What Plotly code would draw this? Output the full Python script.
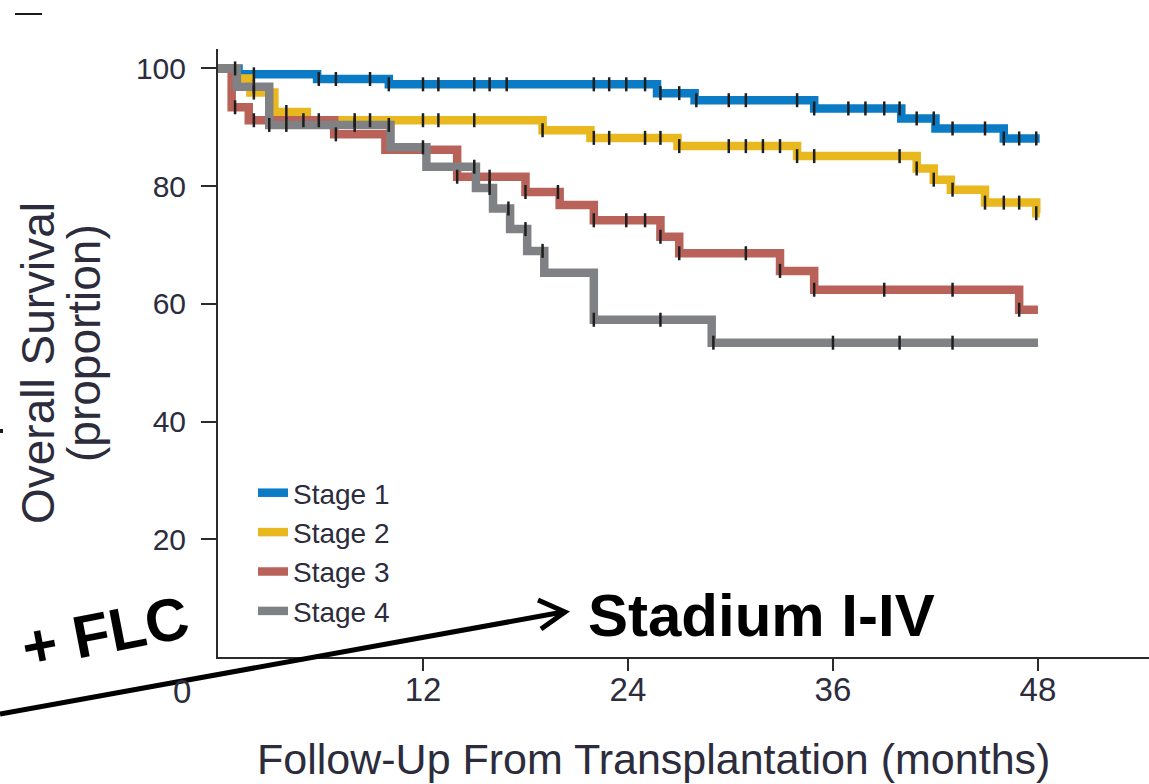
import plotly.graph_objects as go

# ---------------- data ----------------
stage_names = ["Stage 1", "Stage 2", "Stage 3", "Stage 4"]
stage_colors = ["#0a7bc4", "#e8b81e", "#b9625a", "#808184"]

# Kaplan-Meier step functions: time of each step (months) and survival (%) after it
stage1_time = [0, 1.2, 5.8, 10.0, 25.7, 27.9, 34.9, 40.0, 42.0, 46.0, 48.1]
stage1_surv = [100, 99.0, 98.2, 97.3, 95.8, 94.6, 93.2, 91.5, 89.8, 88.1, 88.1]
stage1_cens = [2.1, 5.9, 6.9, 8.9, 10.0, 12.0, 12.9, 15.0, 15.9, 16.9, 22.0, 22.9, 23.9,
               25.0, 25.9, 27.0, 28.0, 29.9, 30.9, 33.9, 34.9, 36.9, 37.9, 39.0, 39.9,
               40.9, 41.9, 43.0, 44.9, 46.0, 46.9, 47.9]

stage2_time = [0, 1.1, 1.9, 3.3, 5.2, 19.0, 21.8, 26.9, 33.9, 40.9, 41.9, 42.9, 44.9, 47.9, 48.1]
stage2_surv = [100, 98.3, 95.9, 92.6, 91.2, 89.5, 88.2, 86.8, 85.1, 83.0, 81.1, 79.4, 77.2, 75.4, 75.4]
stage2_cens = [2.1, 4.0, 8.0, 8.9, 12.0, 12.9, 15.0, 19.0, 22.0, 22.9, 25.0, 25.9, 27.0,
               29.9, 30.9, 31.9, 32.9, 33.9, 34.9, 39.9, 40.9, 41.9, 43.0, 44.9, 46.0,
               46.9, 47.9]

stage3_time = [0, 0.8, 1.8, 6.8, 9.8, 14.0, 18.0, 20.0, 22.0, 25.9, 27.0, 32.9, 34.9, 46.9, 48.0]
stage3_surv = [100, 93.4, 91.2, 88.8, 86.2, 81.6, 79.0, 76.8, 74.2, 71.4, 68.6, 65.6, 62.4, 59.0, 59.0]
stage3_cens = [1.0, 2.1, 5.0, 5.9, 6.9, 14.0, 15.9, 18.0, 19.9, 22.0, 23.9, 25.0, 25.9,
               27.0, 30.9, 32.9, 34.9, 39.0, 43.0, 46.9]

stage4_time = [0, 1.1, 3.0, 10.1, 12.2, 15.1, 16.1, 17.1, 18.1, 19.1, 22.0, 28.9, 48.0]
stage4_surv = [100, 96.9, 90.4, 86.6, 83.3, 79.7, 76.2, 72.7, 69.0, 65.3, 57.3, 53.4, 53.4]
stage4_cens = [1.0, 2.1, 3.0, 4.0, 8.0, 10.0, 12.0, 15.0, 15.9, 17.0, 18.0, 19.0, 22.0,
               25.9, 29.0, 36.0, 39.9, 43.0]

x_tickvals = [12, 24, 36, 48]
x_ticktext = ["12", "24", "36", "48"]
y_tickvals = [20, 40, 60, 80, 100]
y_ticktext = ["20", "40", "60", "80", "100"]

x_title = "Follow-Up From Transplantation (months)"
y_title_1 = "Overall Survival"
y_title_2 = "(proportion)"
note_stadium = "Stadium I-IV"
note_flc = "+ FLC"

# ---------------- figure ----------------
W, H = 1149, 784
ML, MR, MT, MB = 218, 0, 49, 127
PW, PH = W - ML - MR, H - MT - MB

def px(x):
    return (x - ML) / PW

def py(y):
    return (H - MB - y) / PH

def km_at(times, surv, t):
    v = surv[0]
    for ti, si in zip(times, surv):
        if ti <= t:
            v = si
    return v

TXT = "#2c2c3c"
FONT = "Liberation Sans, Arial, Helvetica, sans-serif"

series = [
    (stage1_time, stage1_surv, stage1_cens),
    (stage2_time, stage2_surv, stage2_cens),
    (stage3_time, stage3_surv, stage3_cens),
    (stage4_time, stage4_surv, stage4_cens),
]

fig = go.Figure()
for name, color, (t, s, c) in zip(stage_names, stage_colors, series):
    fig.add_trace(go.Scatter(
        x=t, y=s, mode="lines", name=name,
        line=dict(color=color, width=8.5, shape="hv"),
        hoverinfo="skip",
    ))
for name, color, (t, s, c) in zip(stage_names, stage_colors, series):
    fig.add_trace(go.Scatter(
        x=c, y=[km_at(t, s, ci) for ci in c], mode="markers", name=name + " censored",
        showlegend=False,
        marker=dict(symbol="line-ns", size=10, line=dict(color="#1e1e1e", width=2.5)),
        hoverinfo="skip",
    ))

fig.update_layout(
    width=W, height=H,
    margin=dict(l=ML, r=MR, t=MT, b=MB, pad=0, autoexpand=False),
    plot_bgcolor="white", paper_bgcolor="white",
    font=dict(family=FONT, color=TXT),
    showlegend=True,
    legend=dict(
        x=px(253), y=py(468), xanchor="left", yanchor="top",
        bgcolor="rgba(0,0,0,0)", borderwidth=0,
        font=dict(family=FONT, size=28, color=TXT),
        tracegroupgap=0,
    ),
)
fig.update_xaxes(
    range=[0, 54.5], showgrid=False, zeroline=False, automargin=False,
    showline=True, linecolor="#2b2b2b", linewidth=2,
    ticks="outside", ticklen=12, tickwidth=2, tickcolor="#2b2b2b",
    tickvals=x_tickvals, ticktext=x_ticktext,
    tickfont=dict(family=FONT, size=33, color=TXT),
    ticklabelstandoff=-10,
)
fig.update_yaxes(
    range=[0, 103.3], showgrid=False, zeroline=False, automargin=False,
    showline=True, linecolor="#2b2b2b", linewidth=2,
    ticks="outside", ticklen=15, tickwidth=2, tickcolor="#2b2b2b",
    tickvals=y_tickvals, ticktext=y_ticktext,
    tickfont=dict(family=FONT, size=30, color=TXT),
    ticklabelstandoff=9,
)

ann = [
    dict(text="0", x=px(182), y=py(691), font=dict(size=33, color=TXT)),
    dict(text=x_title, x=px(653), y=py(759), font=dict(size=43, color=TXT)),
    dict(text=y_title_1, x=px(38), y=py(363), textangle=-90, font=dict(size=46, color=TXT)),
    dict(text=y_title_2, x=px(84), y=py(343), textangle=-90, font=dict(size=46, color=TXT)),
    dict(text="<b>" + note_stadium + "</b>", x=px(761), y=py(615), font=dict(size=60, color="black")),
    dict(text="<b>" + note_flc + "</b>", x=px(105), y=py(632), textangle=-11, font=dict(size=60, color="black")),
]
for a in ann:
    fig.add_annotation(xref="paper", yref="paper", showarrow=False,
                       xanchor="center", yanchor="middle", **a)

# arrow from the left edge to "Stadium I-IV"
fig.add_shape(type="line", xref="paper", yref="paper",
              x0=px(0), y0=py(714), x1=px(563), y1=py(612),
              line=dict(color="black", width=5))
fig.add_shape(type="path", xref="paper", yref="paper",
              path=f"M {px(538)},{py(600)} L {px(565)},{py(612)} L {px(541)},{py(629)}",
              line=dict(color="black", width=5))
# small remnants at the image's left edge
fig.add_shape(type="line", xref="paper", yref="paper",
              x0=px(15), y0=py(14), x1=px(42), y1=py(14),
              line=dict(color="#1a1a1a", width=2))
fig.add_shape(type="rect", xref="paper", yref="paper",
              x0=px(0), y0=py(429), x1=px(3), y1=py(433),
              line=dict(width=0), fillcolor="#1a1a1a")

fig.write_html("out.html",
               config={"displayModeBar": False},
               post_script="document.body.style.margin='0px';document.body.style.overflow='hidden';")
